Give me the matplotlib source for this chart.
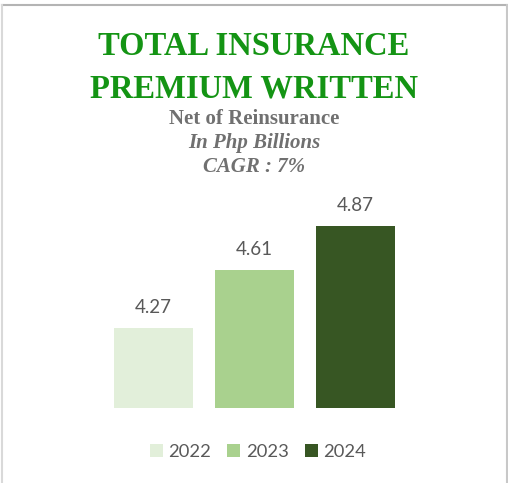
import matplotlib.pyplot as plt
from matplotlib.patches import Patch
from matplotlib.lines import Line2D

years = ["2022", "2023", "2024"]
premium = [4.27, 4.61, 4.87]
colors = ["#e2efda", "#a9d18e", "#375623"]

W, H = 508, 483
fig = plt.figure(figsize=(W / 100, H / 100), dpi=100)

def fx(px):
    return px / W

def fy(px):
    return 1 - px / H

# plot area in pixels
left, right, top, bottom = 103, 406, 208, 408
ax = fig.add_axes([fx(left), fy(bottom), fx(right - left), (bottom - top) / H])
ymin = 3.8
ax.set_ylim(ymin, ymin + (bottom - top) / 170)
ax.set_xlim(-0.5, 2.5)

x = range(len(years))
bars = ax.bar(x, [v - ymin for v in premium], bottom=ymin, width=0.78, color=colors)
for xi, v in zip(x, premium):
    ax.annotate(f"{v:.2f}", (xi, v), xytext=(0, 9), textcoords="offset points",
                ha="center", va="bottom", fontsize=13.5, color="#595959", family="Lato")
ax.axis("off")

# titles
tfont = "Liberation Serif"
fig.text(0.5, fy(55), "TOTAL INSURANCE", ha="center", va="baseline", fontsize=23.5,
         fontweight="bold", color="#149414", family=tfont)
fig.text(0.5, fy(97), "PREMIUM WRITTEN", ha="center", va="baseline", fontsize=23.5,
         fontweight="bold", color="#149414", family=tfont)
fig.text(0.5, fy(124), "Net of Reinsurance", ha="center", va="baseline", fontsize=15,
         fontweight="bold", color="#707070", family=tfont)
fig.text(0.5, fy(148), "In Php Billions", ha="center", va="baseline", fontsize=15,
         fontweight="bold", style="italic", color="#707070", family=tfont)
fig.text(0.5, fy(172), "CAGR : 7%", ha="center", va="baseline", fontsize=15,
         fontweight="bold", style="italic", color="#707070", family=tfont)

# legend
handles = [Patch(facecolor=c, edgecolor="none") for c in colors]
fig.legend(handles, years, loc="center", bbox_to_anchor=(fx(258), fy(452)), ncol=3,
           frameon=False, handlelength=0.7, handleheight=0.7,
           handletextpad=0.3, columnspacing=0.9,
           prop={"family": "Lato", "size": 13.2}, labelcolor="#595959")

# outer border (top, left, right)
fig.add_artist(Line2D([fx(1.5), fx(506.5)], [fy(4.5), fy(4.5)], color="#b4b4b4", lw=1.5))
fig.add_artist(Line2D([fx(1.5), fx(1.5)], [fy(4.5), 0], color="#d9d9d9", lw=1.5))
fig.add_artist(Line2D([fx(506.5), fx(506.5)], [fy(4.5), 0], color="#c8c8c8", lw=1.5))

fig.savefig("out.png", dpi=100)
